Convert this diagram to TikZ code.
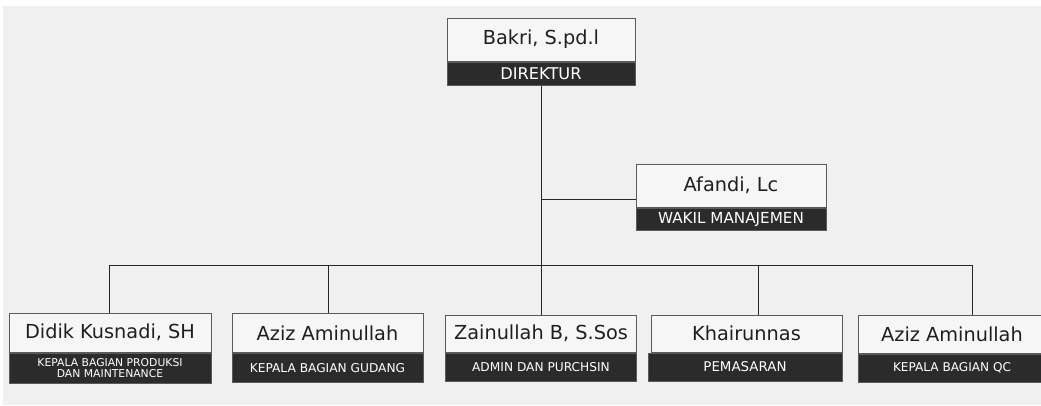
\documentclass[tikz,border=0pt]{standalone}
\usepackage{fontspec}
\usepackage{xcolor}
\usetikzlibrary{positioning}
\newfontfamily\orgfont{DejaVu Sans}
\definecolor{bggray}{HTML}{F0F0F0}
\definecolor{boxgray}{HTML}{F6F6F6}
\definecolor{bandgray}{HTML}{2B2B2B}
\definecolor{edgegray}{HTML}{5A5A5A}
\newcommand{\namesize}{\orgfont\fontsize{19.3}{22}\selectfont}
\newcommand{\rolesize}[1]{\orgfont\fontsize{#1}{#1}\selectfont}
\tikzstyle{namebox} = [rectangle, draw=edgegray, line width=1pt, fill=boxgray, text=black!88, font=\namesize, inner sep=0pt, text centered]
\tikzstyle{rolebox} = [rectangle, draw=edgegray, line width=1pt, fill=bandgray, text=white, inner sep=0pt, align=center]
\tikzstyle{line} = [black!85, line width=1pt]

\begin{document}
\begin{tikzpicture}[x=1pt,y=-1pt]
		\useasboundingbox (0,0) rectangle (1041,405);
		\fill [bggray] (3,6) rectangle (1041,405);
		% direktur
		\node (bakri) [namebox, minimum width=188pt, minimum height=43pt] at (541,39.5) {Bakri, S.pd.l};
		\node (bakriRole) [rolebox, minimum width=188pt, minimum height=23pt, below=0pt of bakri, font=\rolesize{16.2}] {DIREKTUR};
		% wakil
		\node (afandi) [namebox, minimum width=190pt, minimum height=43pt] at (731,185.5) {Afandi, Lc};
		\node (afandiRole) [rolebox, minimum width=190pt, minimum height=22pt, below=0pt of afandi, font=\rolesize{15.2}] {WAKIL MANAJEMEN};
		% kepala bagian
		\node (didik) [namebox, minimum width=202pt, minimum height=39pt] at (110,332.5) {Didik Kusnadi, SH};
		\node (didikRole) [rolebox, minimum width=202pt, minimum height=30pt, below=0pt of didik, font=\rolesize{10.8}] {KEPALA BAGIAN PRODUKSI\\DAN MAINTENANCE};
		\node (aziz) [namebox, minimum width=191pt, minimum height=39pt] at (327.5,333) {Aziz Aminullah};
		\node (azizRole) [rolebox, minimum width=191pt, minimum height=29pt, below=0pt of aziz, font=\rolesize{12.2}] {KEPALA BAGIAN GUDANG};
		\node (zain) [namebox, minimum width=191pt, minimum height=37pt] at (541,333.5) {Zainullah B, S.Sos};
		\node (zainRole) [rolebox, minimum width=191pt, minimum height=28pt, below=0pt of zain, font=\rolesize{12.2}] {ADMIN DAN PURCHSIN};
		\node (khair) [namebox, minimum width=191pt, minimum height=37pt] at (746.5,333.5) {Khairunnas};
		\node (khairRole) [rolebox, minimum width=194pt, minimum height=28pt, below=0pt of khair, xshift=-1.5pt, font=\rolesize{13.4}] {PEMASARAN};
		\node (qc) [namebox, minimum width=188pt, minimum height=38pt] at (952,334) {Aziz Aminullah};
		\node (qcRole) [rolebox, minimum width=188pt, minimum height=28pt, below=0pt of qc, font=\rolesize{12.1}] {KEPALA BAGIAN QC};
		% garis
		\coordinate (wakilJoint) at (541,199);
		\coordinate (drop1) at (109,265);
		\coordinate (drop2) at (328,265);
		\coordinate (drop3) at (541,265);
		\coordinate (drop4) at (758,265);
		\coordinate (drop5) at (972,265);
		\draw [line] (bakriRole.south) -- (zain.north);
		\draw [line] (wakilJoint) -- (wakilJoint -| afandi.west);
		\draw [line] (drop1) -- (drop5);
		\draw [line] (drop1) -- (drop1 |- didik.north);
		\draw [line] (drop2) -- (drop2 |- aziz.north);
		\draw [line] (drop4) -- (drop4 |- khair.north);
		\draw [line] (drop5) -- (drop5 |- qc.north);
	\end{tikzpicture}
\end{document}
